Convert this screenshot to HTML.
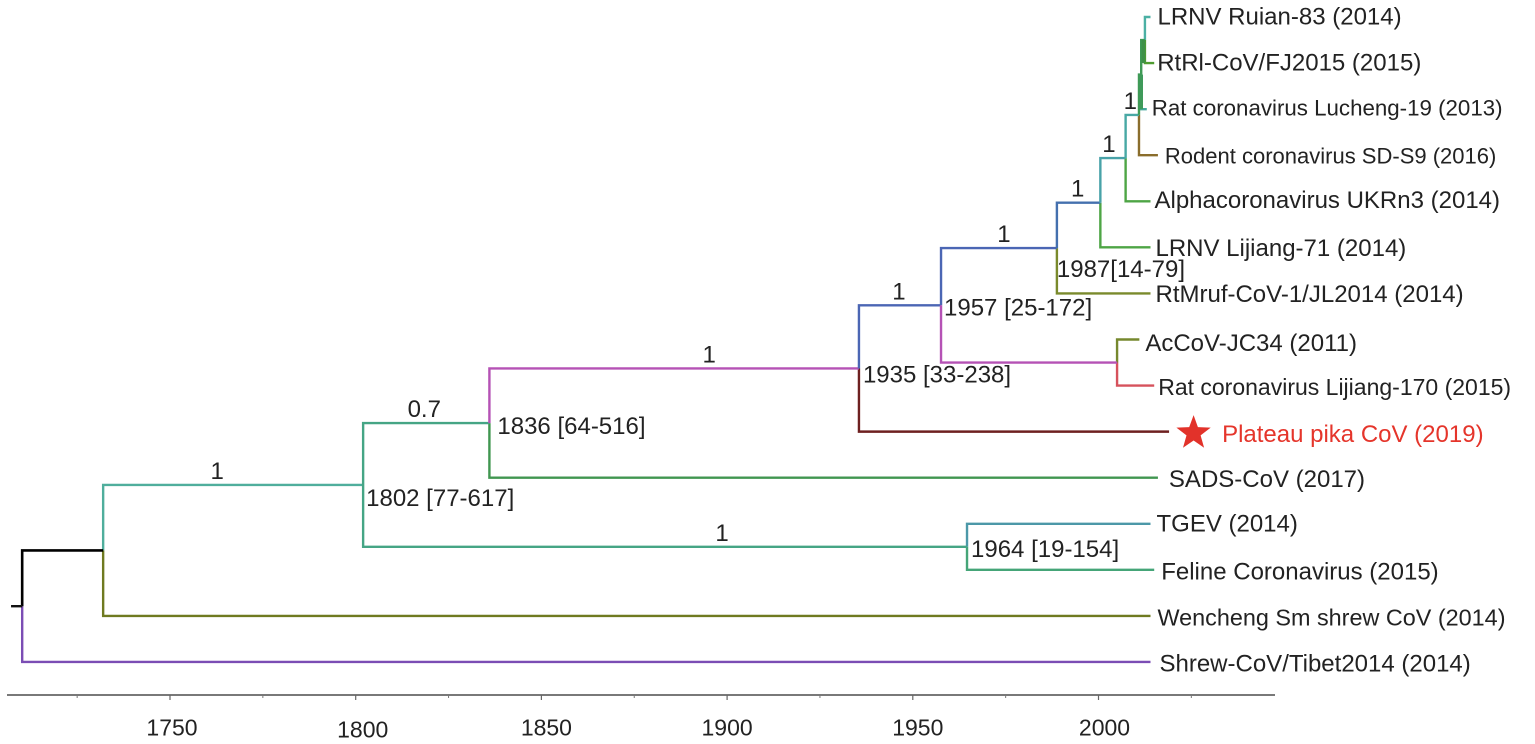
<!DOCTYPE html>
<html lang="en">
<head>
<meta charset="utf-8">
<title>Coronavirus time-scaled phylogeny</title>
<style>
  html, body { margin: 0; padding: 0; background: #fff; }
  body { width: 1535px; height: 744px; overflow: hidden; }
  svg { display: block; }
  text { font-family: "Liberation Sans", Arial, sans-serif; font-size: 24px; fill: #222; }
</style>
</head>
<body>
<svg id="tree" width="1535" height="744" viewBox="0 0 1535 744"></svg>
<script>
// ---- chart data ----
const tipNames = ["LRNV Ruian-83", "RtRl-CoV/FJ2015", "Rat coronavirus Lucheng-19", "Rodent coronavirus SD-S9",
  "Alphacoronavirus UKRn3", "LRNV Lijiang-71", "RtMruf-CoV-1/JL2014", "AcCoV-JC34",
  "Rat coronavirus Lijiang-170", "Plateau pika CoV", "SADS-CoV", "TGEV", "Feline Coronavirus",
  "Wencheng Sm shrew CoV", "Shrew-CoV/Tibet2014"];
const tipSampleYears = [2014, 2015, 2013, 2016, 2014, 2014, 2014, 2011, 2015, 2019, 2017, 2014, 2015, 2014, 2014];
const tipBranchEnds = [2014, 2015, 2013, 2016, 2014, 2014, 2014, 2011, 2015, 2019, 2016, 2014, 2015, 2014, 2014];
const tipParents = ["n11", "n11", "n10", "n9", "n8", "n7", "n6", "nAc", "nAc", "n4", "n3", "n12", "n12", "n1", "root"];
const nodeIds = ["root", "n1", "n2", "n3", "n4", "n5", "n6", "n7", "n8", "n9", "n10", "n11", "nAc", "n12"];
const nodeParents = [null, "root", "n1", "n2", "n3", "n4", "n5", "n6", "n7", "n8", "n9", "n10", "n5", "n2"];
const nodeYears = [1710.2, 1732, 1802, 1836, 1935.5, 1957.6, 1988.8, 2000.5, 2007.3, 2010.9, 2011.5, 2012.5, 2005, 1964.6];
const rootStemYear = 1707.2;
const posteriorLabels = [null, null, "1", "0.7", "1", "1", "1", "1", "1", "1", null, null, null, "1"];
const hpdLabels = [null, null, "1802 [77-617]", "1836 [64-516]", "1935 [33-238]", "1957 [25-172]", "1987[14-79]", null, null, null, null, null, null, "1964 [19-154]"];
const majorTicks = [1750, 1800, 1850, 1900, 1950, 2000];
const minorTicks = [1725, 1775, 1825, 1875, 1925, 1975, 2025];

// ---- scales ----
const yearScale = 3.714, yearOrigin = 1750, xOrigin = 170;
const rowTop = 17, rowStep = 46.07;
function xOf(year) { return xOrigin + (year - yearOrigin) * yearScale; }
function yOfRow(row) { return rowTop + rowStep * row; }

// ---- styling & label placement (not data) ----
const branchColors = {
  n2: "#4fae9c", n3: "#45a585", n4: "#b552b5", n5: "#4b66b4", n6: "#4b66b4", n7: "#4470ae", n8: "#48a2a8",
  n9: "#48a8a4", n10: "#3f9a55", n11: "#3f9a55", nAc: "#b552b5", n12: "#45a585",
  t0: "#4bb0a4", t1: "#4f9c30", t2: "#45a89c", t3: "#8a6d2c", t4: "#4ea545", t5: "#4ea545", t6: "#7a8a2c",
  t7: "#76882e", t8: "#d6525c", t9: "#6e2020", t10: "#409650", t11: "#4c98a8", t12: "#45a578",
  t13: "#6f7a20", t14: "#7b4db4"
};
const lineWidth = 2.4;
const tipLabelGap = [7, 3, 5, 7, 4, 5, 5, 6, 4, 53, 11, 6, 7, 7, 9];
const tipLabelDy = [-1, -1, -2, 0, -2, 0, 0, 3, 1, 2, 1, -1, 1, 1, 1];
const tipLabelSize = [24, 24, 22.3, 22, 24, 24, 24, 24, 23, 24, 24, 24, 24, 23.4, 24];
const posteriorDx = { n2: -16, n3: -2, n4: 35, n5: -1, n6: 5, n7: -1, n8: -4, n9: -2, n12: 57 };
const hpdDx = { n2: 3, n3: 8, n4: 4, n5: 3, n6: 0, n12: 4 };
const hpdDy = { n2: 13, n3: 3, n4: 6, n5: 2, n6: 21, n12: 2 };
const tickLabelDx = { 1750: 2, 1800: 7, 1850: 5, 1900: 0, 1950: 5, 2000: 6 };
const tickLabelDy = { 1800: 2 };

const svg = document.getElementById("tree");
const NS = "http://www.w3.org/2000/svg";
function mk(tag, attrs, text) {
  const e = document.createElementNS(NS, tag);
  for (const k in attrs) e.setAttribute(k, attrs[k]);
  if (text != null) e.textContent = text;
  svg.appendChild(e);
  return e;
}
function slug(s) { return s.toLowerCase().replace(/[^a-z0-9]+/g, "-").replace(/^-|-$/g, ""); }

// ---- layout: tips sit on rows, each internal node at the midpoint of its children ----
const nodeYPos = {};
function nodeY(id) {
  if (id in nodeYPos) return nodeYPos[id];
  const kids = [];
  tipParents.forEach(function (p, i) { if (p === id) kids.push(yOfRow(i)); });
  nodeParents.forEach(function (p, i) { if (p === id) kids.push(nodeY(nodeIds[i])); });
  nodeYPos[id] = (Math.min.apply(null, kids) + Math.max.apply(null, kids)) / 2;
  return nodeYPos[id];
}
function nodeX(id) { return xOf(nodeYears[nodeIds.indexOf(id)]); }

// ---- branches ----
function drawBranch(parentId, endX, endY, color, name) {
  const px = nodeX(parentId), py = nodeY(parentId);
  const el = mk("path", { d: "M" + px + " " + py + "V" + endY + "H" + endX, fill: "none", stroke: color, "stroke-width": lineWidth });
  
  
}

tipNames.forEach(function (name, i) {
  drawBranch(tipParents[i], xOf(tipBranchEnds[i]), yOfRow(i), branchColors["t" + i], "branch-" + slug(name));
});
nodeIds.forEach(function (id, i) {
  if (nodeParents[i] === null || nodeParents[i] === "root") return;
  drawBranch(nodeParents[i], xOf(nodeYears[i]), nodeY(id), branchColors[id], "branch-" + id);
});

// heavier green verticals at the crowded top of the tree
const heavyUpper = mk("line", { x1: nodeX("n11") - 1.5, x2: nodeX("n11") - 1.5, y1: nodeY("n11"), y2: yOfRow(1), stroke: "#3f9148", "stroke-width": 3.6 });


const heavyLower = mk("line", { x1: nodeX("n10"), x2: nodeX("n10"), y1: nodeY("n10"), y2: yOfRow(2), stroke: "#3f9a5a", "stroke-width": 3.6 });



const rootBranch = mk("path", { d: "M" + nodeX("root") + " " + nodeY("root") + "V" + nodeY("n1") + "H" + nodeX("n1"), fill: "none", stroke: "#000", "stroke-width": 2.6 });


const rootStem = mk("line", { x1: xOf(rootStemYear), x2: nodeX("root"), y1: nodeY("root"), y2: nodeY("root"), stroke: "#111", "stroke-width": 2.4 });



// ---- tip labels ----
tipNames.forEach(function (name, i) {
  const isHighlight = name === "Plateau pika CoV";
  const t = mk("text", {
    x: xOf(tipBranchEnds[i]) + tipLabelGap[i],
    y: yOfRow(i) + 8.5 + tipLabelDy[i],
    style: "font-size:" + tipLabelSize[i] + "px;" + (isHighlight ? "fill:#e5352b" : "")
  }, name + " (" + tipSampleYears[i] + ")");
  
  
  if (isHighlight) {
    const cx = xOf(tipBranchEnds[i]) + 24.5, cy = yOfRow(i) + 1.5, pts = [];
    for (let k = 0; k < 10; k++) {
      const r = k % 2 ? 7.4 : 18, a = -Math.PI / 2 + k * Math.PI / 5;
      pts.push((cx + r * Math.cos(a)).toFixed(1) + "," + (cy + r * Math.sin(a)).toFixed(1));
    }
    const star = mk("polygon", { points: pts.join(" "), fill: "#e2322a" });
    
    
  }
});

// ---- node labels ----
nodeIds.forEach(function (id, i) {
  if (posteriorLabels[i] !== null) {
    const parentId = nodeParents[i];
    const mid = (nodeX(parentId) + nodeX(id)) / 2;
    const p = mk("text", { x: mid + (posteriorDx[id] || 0), y: nodeY(id) - 6, "text-anchor": "middle" }, posteriorLabels[i]);
    
    
  }
  if (hpdLabels[i] !== null) {
    const h = mk("text", { x: nodeX(id) + (hpdDx[id] || 0), y: nodeY(id) + 8 + (hpdDy[id] || 0) }, hpdLabels[i]);
    
    
  }
});

// ---- axis ----
const axisY = 695;
const axisLine = mk("line", { x1: 7, x2: 1275, y1: axisY, y2: axisY, stroke: "#666", "stroke-width": 1.8 });


majorTicks.forEach(function (yr) {
  const tick = mk("line", { x1: xOf(yr), x2: xOf(yr), y1: axisY, y2: axisY + 5, stroke: "#666", "stroke-width": 1.2 });
  
  
  const lab = mk("text", { x: xOf(yr) + (tickLabelDx[yr] || 0), y: 735.5 + (tickLabelDy[yr] || 0), "text-anchor": "middle", style: "font-size:23px" }, String(yr));
  
  
});
minorTicks.forEach(function (yr) {
  const tick = mk("line", { x1: xOf(yr), x2: xOf(yr), y1: axisY, y2: axisY + 3, stroke: "#777", "stroke-width": 1 });
  
  
});
</script>
</body>
</html>
